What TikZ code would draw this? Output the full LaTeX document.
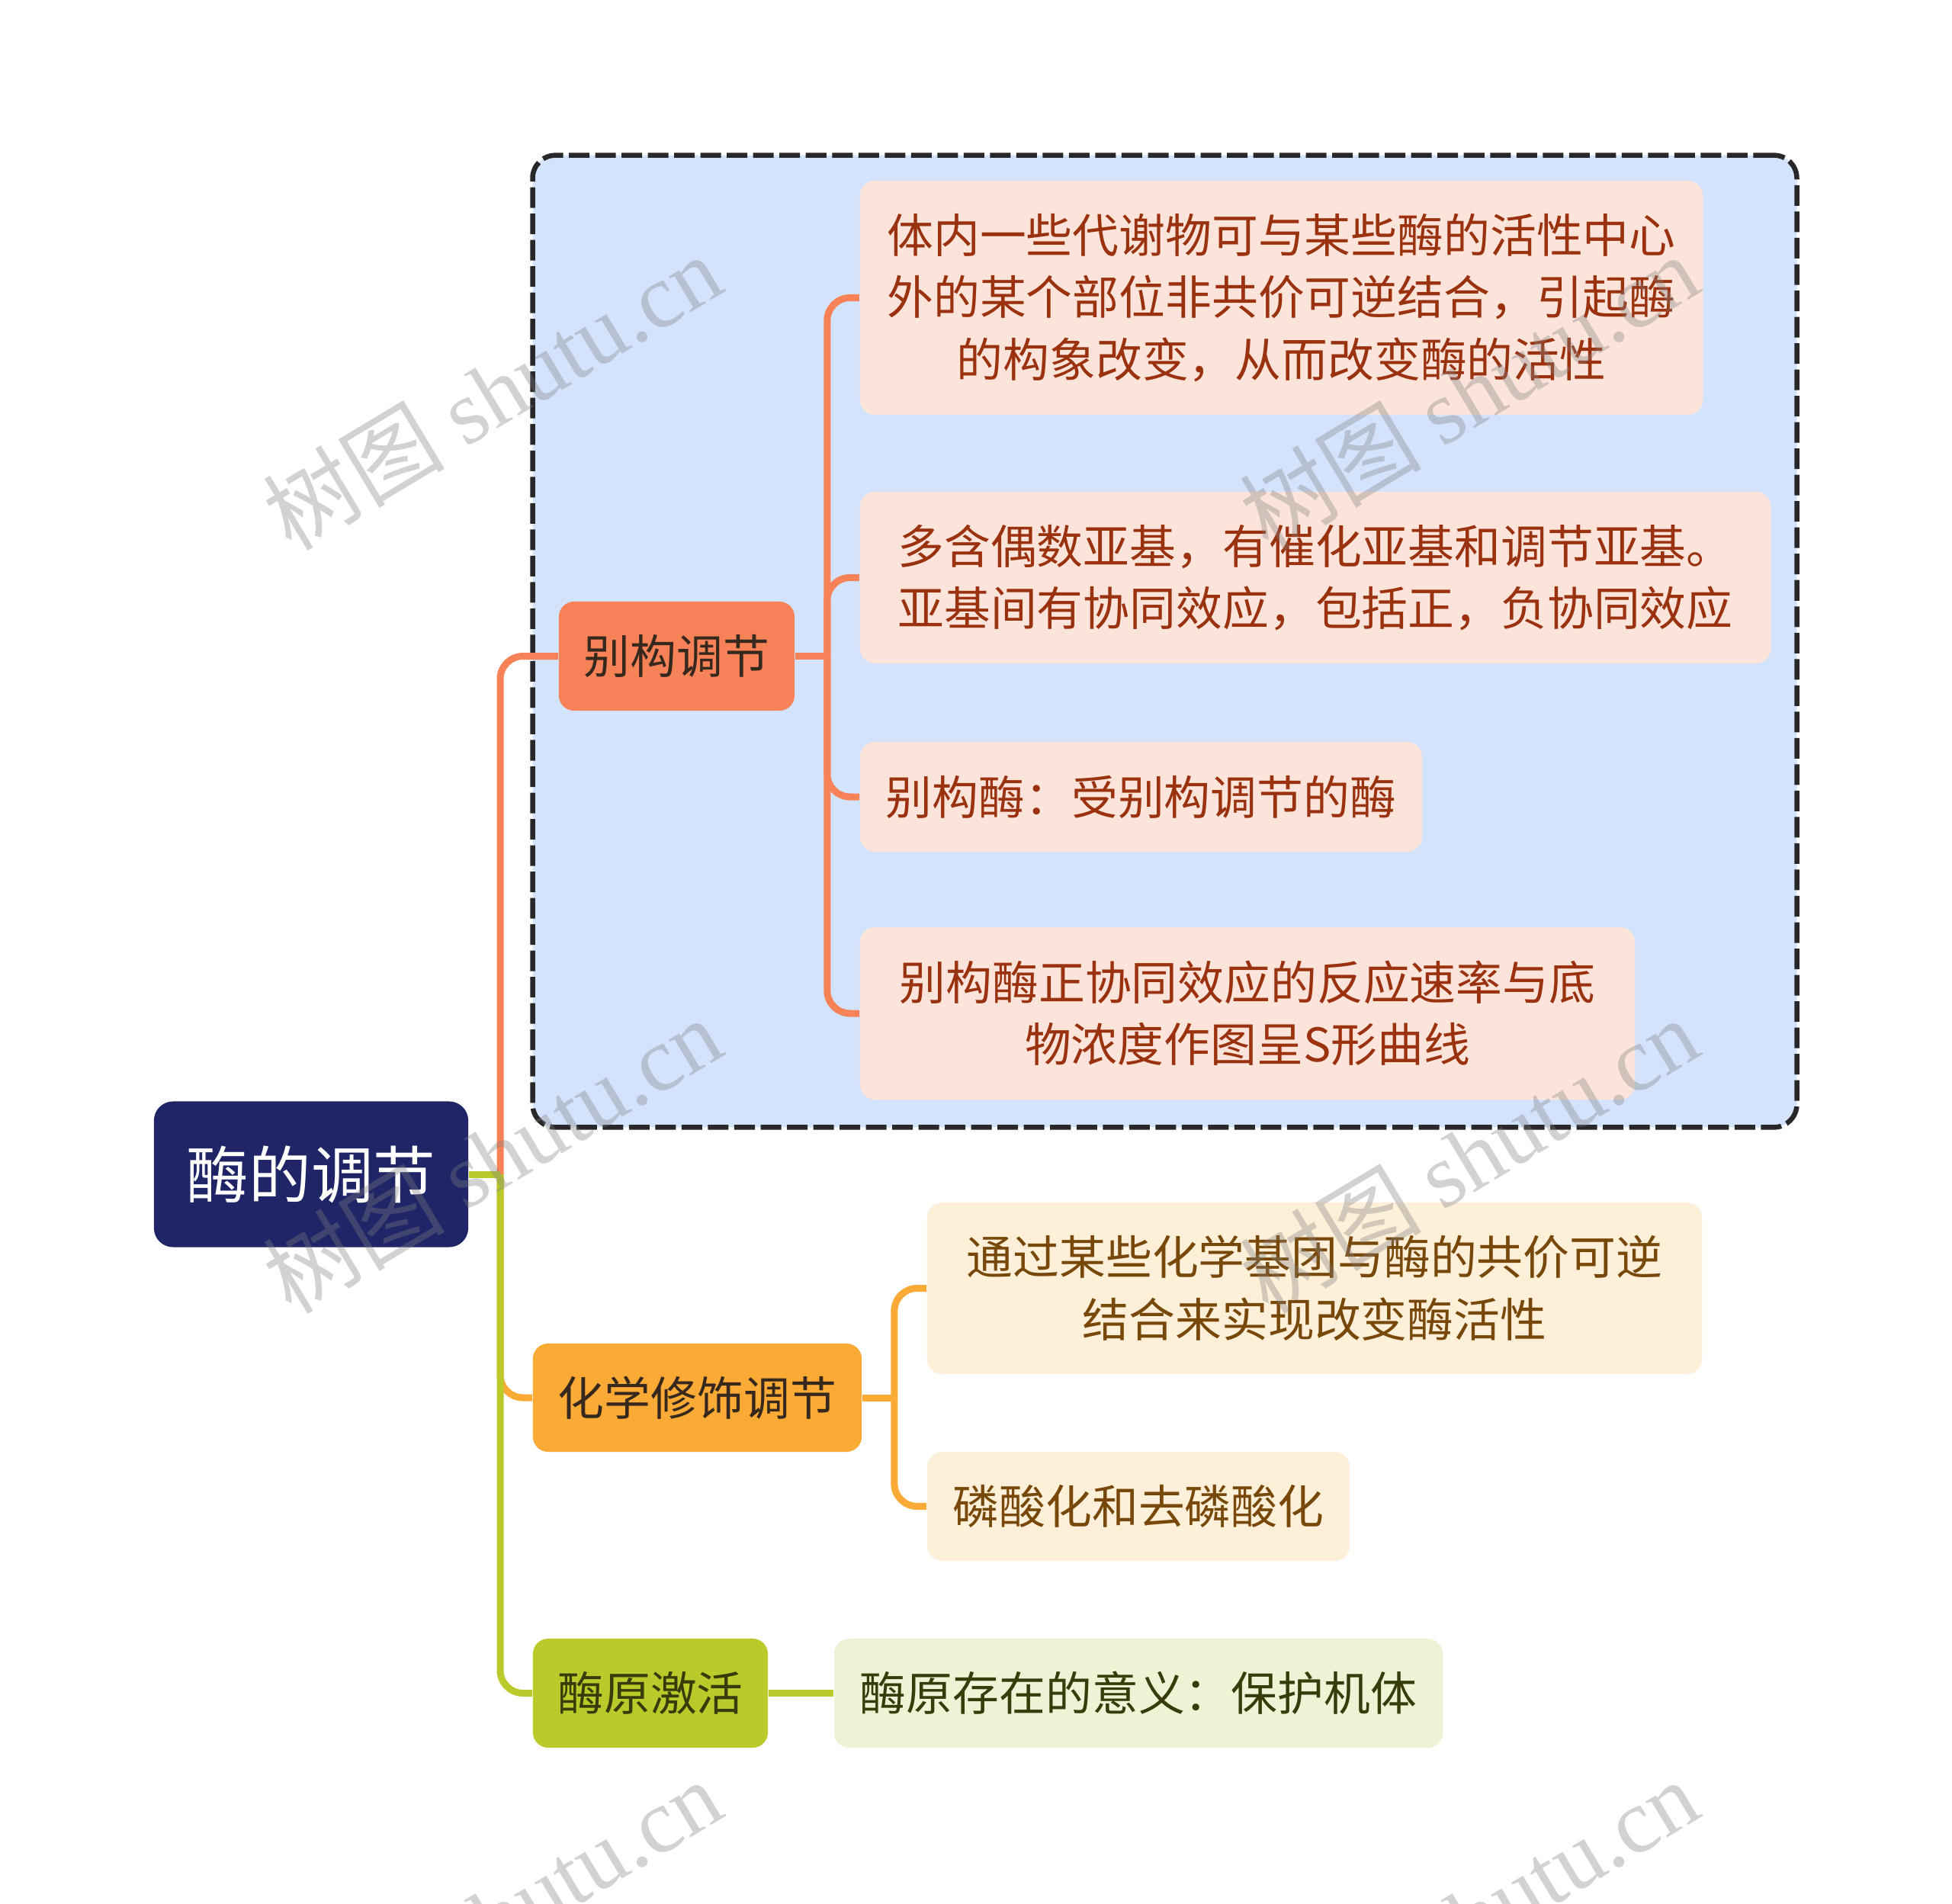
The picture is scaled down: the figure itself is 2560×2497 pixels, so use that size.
\documentclass[tikz,border=0pt]{standalone}
\usepackage{fontspec}
\setmainfont{Noto Sans CJK SC}
\newfontfamily\wmlatin{Liberation Serif}
\usetikzlibrary{positioning,calc}
\definecolor{rootnavy}{RGB}{31,37,102}
\definecolor{alloorange}{RGB}{248,130,88}
\definecolor{allolight}{RGB}{253,228,219}
\definecolor{allotext}{RGB}{155,50,15}
\definecolor{chemamber}{RGB}{251,170,53}
\definecolor{chemlight}{RGB}{253,239,216}
\definecolor{chemtext}{RGB}{120,72,10}
\definecolor{zymolime}{RGB}{185,202,42}
\definecolor{zymolight}{RGB}{239,243,214}
\definecolor{zymotext}{RGB}{55,60,10}
\definecolor{darktext}{RGB}{55,40,30}
\definecolor{groupblue}{RGB}{212,227,252}
\definecolor{framegray}{RGB}{40,40,42}

\begin{document}
\begin{tikzpicture}[
  x=0.01cm, y=-0.01cm,
  root/.style={fill=rootnavy, rounded corners=0.25cm, text=white, inner sep=0pt, font=\fontsize{23.2}{28}\selectfont, minimum width=4.12cm, minimum height=1.91cm},
  topic/.style={rounded corners=0.2cm, align=center, inner sep=0pt, font=\fontsize{17.3}{23.2}\selectfont},
  allo/.style={topic, fill=alloorange, text=darktext, minimum height=1.43cm},
  allosub/.style={topic, fill=allolight, text=allotext},
  chem/.style={topic, fill=chemamber, text=darktext, minimum height=1.42cm},
  chemsub/.style={topic, fill=chemlight, text=chemtext},
  zymo/.style={topic, fill=zymolime, text=zymotext, minimum height=1.43cm},
  zymosub/.style={topic, fill=zymolight, text=zymotext},
  link/.style={line width=0.09cm, rounded corners=0.3cm},
  groupbox/.style={draw=framegray, fill=groupblue, line width=0.065cm, dash pattern=on 0.27cm off 0.075cm, rounded corners=0.3cm},
  wmtext/.style={rotate=31, text=gray, text opacity=0.35, font=\fontsize{34}{34}\selectfont}
]
\fill[white] (0,0) rectangle (2560,2497);
\useasboundingbox (0,0) rectangle (2560,2497);

\node[groupbox, minimum width=16.57cm, minimum height=12.74cm] (grp) at (1527.5,841) {};

\node[root] (enzyme) at (408,1540) {酶的调节};

\node[allo, minimum width=3.09cm] (allo) at (887.5,860.5) {别构调节};
\node[allosub, minimum width=11.05cm, minimum height=3.07cm] (allo1) at (1680.5,390.5) {体内一些代谢物可与某些酶的活性中心\\外的某个部位非共价可逆结合，引起酶\\的构象改变，从而改变酶的活性};
\node[allosub, minimum width=11.94cm, minimum height=2.25cm] (allo2) at (1725,757.5) {多含偶数亚基，有催化亚基和调节亚基。\\亚基间有协同效应，包括正，负协同效应};
\node[allosub, minimum width=7.37cm, minimum height=1.44cm] (allo3) at (1496.5,1045) {别构酶：受别构调节的酶};
\node[allosub, minimum width=10.16cm, minimum height=2.26cm] (allo4) at (1636,1329) {别构酶正协同效应的反应速率与底\\物浓度作图呈S形曲线};

\node[chem, minimum width=4.31cm] (chem) at (914.5,1833) {化学修饰调节};
\node[chemsub, minimum width=10.16cm, minimum height=2.25cm] (chem1) at (1724,1689.5) {通过某些化学基团与酶的共价可逆\\结合来实现改变酶活性};
\node[chemsub, minimum width=5.54cm, minimum height=1.43cm] (chem2) at (1493,1975.5) {磷酸化和去磷酸化};

\node[zymo, minimum width=3.08cm] (zymo) at (853,2220.5) {酶原激活};
\node[zymosub, minimum width=7.98cm, minimum height=1.43cm] (zymo1) at (1493,2220.5) {酶原存在的意义：保护机体};

\coordinate (hub) at (656,1540);
\draw[link, alloorange] (hub) |- (allo.west);
\draw[link, chemamber] (hub) |- (chem.west);
\draw[link, zymolime] (hub) |- (zymo.west);
\draw[link, zymolime, rounded corners=0] (enzyme.east) -- (hub);

\draw[link, alloorange, rounded corners=0] (allo.east) -- ++(42,0) coordinate (allohub);
\draw[link, alloorange] (allohub) |- (allo1.west);
\draw[link, alloorange] (allohub) |- (allo2.west);
\draw[link, alloorange] (allohub) |- (allo3.west);
\draw[link, alloorange] (allohub) |- (allo4.west);

\draw[link, chemamber, rounded corners=0] (chem.east) -- ++(42,0) coordinate (chemhub);
\draw[link, chemamber] (chemhub) |- (chem1.west);
\draw[link, chemamber] (chemhub) |- (chem2.west);

\draw[link, zymolime] (zymo.east) -- (zymo1.west);

\foreach \wx/\wy [count=\i] in {645/514, 1926/514, 645/1515, 1926/1515, 645/2514, 1926/2514}
  \node[wmtext] (wm\i) at (\wx,\wy) {树图 {\wmlatin shutu.cn}};
\end{tikzpicture}
\end{document}
